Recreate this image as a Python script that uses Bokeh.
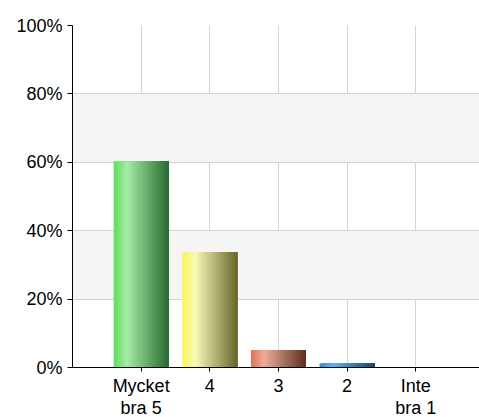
from bokeh.plotting import figure
from bokeh.models import ColumnDataSource, Range1d, FixedTicker, PrintfTickFormatter
from bokeh.embed import file_html
from bokeh.resources import INLINE

# ---- data ----
categories = ["Mycket\nbra 5", "4", "3", "2", "Inte\nbra 1"]
values = [60.3, 33.7, 5.1, 1.2, 0.0]
y_ticks = [0, 20, 40, 60, 80, 100]

# ---- styles (gradient stops per bar: position, colour) ----
gradients = [
    [(0.0, "#5cdf5c"), (0.24, "#a6eba6"), (1.0, "#2a6a30")],
    [(0.0, "#f6f65a"), (0.24, "#f8f8b6"), (1.0, "#66662a")],
    [(0.0, "#dc7458"), (0.24, "#eeac9a"), (1.0, "#5a3020")],
    [(0.0, "#2a8ae0"), (0.24, "#60b2f2"), (1.0, "#174666")],
    [(0.0, "#d05050"), (0.24, "#f0a0a0"), (1.0, "#602020")],
]
BAR_W = 0.8
N_SLICES = 40


def hex2rgb(h):
    h = h.lstrip("#")
    return tuple(int(h[i:i + 2], 16) for i in (0, 2, 4))


def interp(stops, t):
    for (p0, c0), (p1, c1) in zip(stops, stops[1:]):
        if p0 <= t <= p1:
            f = (t - p0) / (p1 - p0) if p1 > p0 else 0
            a, b = hex2rgb(c0), hex2rgb(c1)
            return "#%02x%02x%02x" % tuple(round(a[i] + (b[i] - a[i]) * f) for i in range(3))
    return stops[-1][1]


xs, tops, ws, cols = [], [], [], []
for i, (v, stops) in enumerate(zip(values, gradients)):
    if v <= 0:
        continue
    center = i + 1
    left, right = center - BAR_W / 2, center + BAR_W / 2
    sw = BAR_W / N_SLICES
    for k in range(N_SLICES):
        start = left + k * sw
        xs.append((start + right) / 2)
        ws.append(right - start)
        tops.append(v)
        cols.append(interp(stops, (k + 0.5) / N_SLICES))

src = ColumnDataSource(dict(x=xs, top=tops, w=ws, c=cols))

p = figure(frame_width=407, frame_height=342, output_backend="svg", toolbar_location=None,
           x_range=Range1d(0, 5.93), y_range=Range1d(0, 100),
           min_border_left=72, min_border_right=0, min_border_top=25, min_border_bottom=0)
p.outline_line_color = None
p.background_fill_color = "white"

p.vbar(x="x", top="top", bottom=0, width="w", fill_color="c", line_color=None, source=src)

tick_positions = list(range(1, len(categories) + 1))
p.xaxis.ticker = FixedTicker(ticks=tick_positions)
p.xaxis.major_label_overrides = {pos: lab for pos, lab in zip(tick_positions, categories)}
p.yaxis.ticker = FixedTicker(ticks=y_ticks)
p.yaxis.formatter = PrintfTickFormatter(format="%d%%")

for ax in (p.xaxis[0], p.yaxis[0]):
    ax.axis_line_color = "black"
    ax.major_tick_line_color = "black"
    ax.minor_tick_line_color = None
    ax.major_tick_in = 0
    ax.major_tick_out = 5
    ax.major_label_text_font = "Liberation Sans"
    ax.major_label_text_font_size = "18px"
    ax.major_label_text_color = "black"
p.xaxis.major_tick_out = 4
p.xaxis.major_label_standoff = 4
p.xaxis.major_label_text_line_height = 1.1
p.yaxis.major_label_standoff = 5

p.xgrid.ticker = FixedTicker(ticks=tick_positions)
p.xgrid.grid_line_color = "#d4d4d4"
p.ygrid.ticker = FixedTicker(ticks=y_ticks)
p.ygrid.grid_line_color = "#d4d4d4"
p.ygrid.band_fill_color = "#f5f5f5"
p.ygrid.band_fill_alpha = 1.0

open("out.html", "w").write(file_html(p, INLINE))
